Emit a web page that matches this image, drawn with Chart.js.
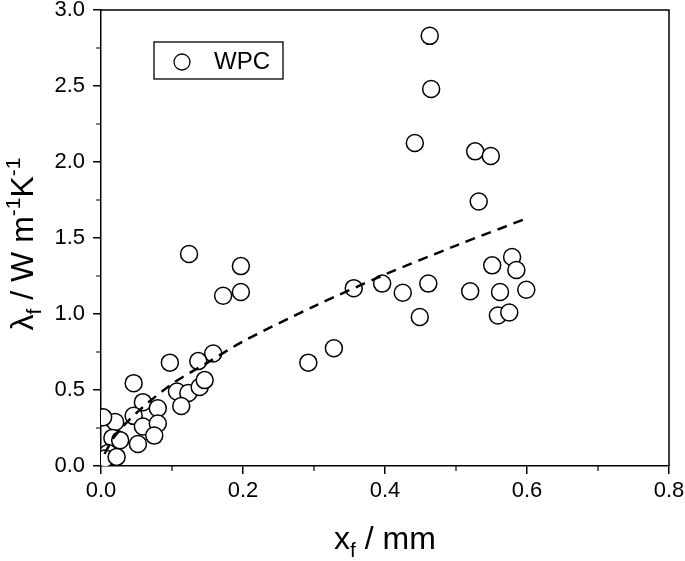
<!DOCTYPE html>
<html lang="en">
<head>
    <meta charset="UTF-8">
    <title>WPC lambda vs x</title>
    <script src="https://cdn.jsdelivr.net/npm/chart.js"></script>
    <style>
        body { margin: 0; background: #fff; }
        .wrap { width: 685px; height: 561px; }
    </style>
</head>
<body>
    <div class="wrap"><canvas id="chart" width="685" height="561"></canvas></div>

    <script>
        // measured points (x_f in mm, lambda_f in W/mK)
        const wpcX = [0.463, 0.465, 0.442, 0.527, 0.549, 0.532, 0.551, 0.579, 0.585, 0.562,
                      0.599, 0.559, 0.575, 0.520, 0.461, 0.425, 0.396, 0.356, 0.449, 0.328,
                      0.292, 0.124, 0.197, 0.172, 0.197, 0.158, 0.137, 0.097, 0.046, 0.107,
                      0.123, 0.139, 0.146, 0.113, 0.059, 0.080, 0.046, 0.020, 0.003, 0.059,
                      0.080, 0.075, 0.052, 0.022, 0.016, 0.027, 0.010, 0.006, 0.022];
        const wpcY = [2.83, 2.48, 2.125, 2.07, 2.04, 1.74, 1.32, 1.375, 1.29, 1.145,
                      1.16, 0.99, 1.01, 1.15, 1.20, 1.14, 1.20, 1.17, 0.98, 0.775,
                      0.68, 1.395, 1.315, 1.12, 1.145, 0.74, 0.69, 0.68, 0.545, 0.49,
                      0.48, 0.52, 0.565, 0.395, 0.42, 0.38, 0.33, 0.29, 0.32, 0.26,
                      0.28, 0.20, 0.145, 0.18, 0.185, 0.17, 0.085, 0.05, 0.06];

        // dashed fit line
        const fitX = [0.005, 0.02, 0.05, 0.1, 0.15, 0.2, 0.3, 0.4, 0.5, 0.6];
        const fitY = [0.08, 0.20, 0.35, 0.54, 0.68, 0.82, 1.05, 1.26, 1.45, 1.63];

        const xTicks = [0, 0.2, 0.4, 0.6, 0.8];
        const yTicks = [0, 0.5, 1.0, 1.5, 2.0, 2.5, 3.0];

        const wpcPoints = wpcX.map((x, i) => ({ x: x, y: wpcY[i] }));
        const fitPoints = fitX.map((x, i) => ({ x: x, y: fitY[i] }));

        const FONT = '"Liberation Sans", Arial, sans-serif';

        // minor ticks, frame, axis titles and legend box
        const decor = {
            id: 'decor',
            afterDraw(chart) {
                const ctx = chart.ctx;
                const a = chart.chartArea;
                const xs = chart.scales.x, ys = chart.scales.y;
                ctx.save();
                ctx.strokeStyle = '#000';
                ctx.lineWidth = 1.5;
                ctx.beginPath();
                ctx.moveTo(a.left, a.top); ctx.lineTo(a.right, a.top); ctx.lineTo(a.right, a.bottom);
                ctx.stroke();

                // minor ticks
                ctx.lineWidth = 1.2;
                ctx.beginPath();
                for (let i = 0; i < xTicks.length - 1; i++) {
                    const px = xs.getPixelForValue((xTicks[i] + xTicks[i + 1]) / 2);
                    ctx.moveTo(px, a.bottom); ctx.lineTo(px, a.bottom + 5);
                }
                for (let i = 0; i < yTicks.length - 1; i++) {
                    const py = ys.getPixelForValue((yTicks[i] + yTicks[i + 1]) / 2);
                    ctx.moveTo(a.left, py); ctx.lineTo(a.left - 5, py);
                }
                ctx.stroke();

                ctx.fillStyle = '#000';
                ctx.textBaseline = 'alphabetic';
                const big = '32px ' + FONT;
                const small = '21px ' + FONT;

                function runs(parts) {
                    let w = 0;
                    parts.forEach(p => { ctx.font = p.f; w += ctx.measureText(p.t).width; });
                    return w;
                }

                // x title: x_f / mm
                const xParts = [
                    { t: 'x', f: big, dy: 0 },
                    { t: 'f', f: small, dy: 8 },
                    { t: ' / mm', f: big, dy: 0 }
                ];
                let w = runs(xParts);
                let cx = (a.left + a.right) / 2 - w / 2;
                xParts.forEach(p => {
                    ctx.font = p.f;
                    ctx.fillText(p.t, cx, 549 + p.dy);
                    cx += ctx.measureText(p.t).width;
                });

                // y title: lambda_f / W m^-1 K^-1
                const yParts = [
                    { t: 'λ', f: big, dy: 0 },
                    { t: 'f', f: small, dy: 8 },
                    { t: ' / W m', f: big, dy: 0 },
                    { t: '-1', f: small, dy: -13 },
                    { t: 'K', f: big, dy: 0 },
                    { t: '-1', f: small, dy: -13 }
                ];
                w = runs(yParts);
                ctx.save();
                ctx.translate(33, 244);
                ctx.rotate(-Math.PI / 2);
                cx = -w / 2;
                yParts.forEach(p => {
                    ctx.font = p.f;
                    ctx.fillText(p.t, cx, p.dy);
                    cx += ctx.measureText(p.t).width;
                });
                ctx.restore();

                // legend box
                ctx.lineWidth = 1.3;
                ctx.strokeRect(a.left + 53, a.top + 32, 129, 37);
                ctx.beginPath();
                ctx.arc(a.left + 81, a.top + 52, 8, 0, Math.PI * 2);
                ctx.stroke();
                ctx.font = '24px ' + FONT;
                ctx.textBaseline = 'middle';
                ctx.fillText('WPC', a.left + 113, a.top + 52);
                ctx.restore();
            }
        };

        new Chart(document.getElementById('chart').getContext('2d'), {
            type: 'scatter',
            data: {
                datasets: [
                    {
                        label: 'fit',
                        type: 'line',
                        data: fitPoints,
                        borderColor: '#000',
                        borderWidth: 2.5,
                        borderDash: [10, 7],
                        pointRadius: 0,
                        fill: false,
                        tension: 0.3,
                        order: 0
                    },
                    {
                        label: 'WPC',
                        data: wpcPoints,
                        pointRadius: 8.5,
                        pointBorderWidth: 1.5,
                        borderColor: '#000',
                        backgroundColor: '#fff',
                        order: 1
                    }
                ]
            },
            options: {
                responsive: false,
                animation: false,
                layout: { padding: { left: 0, top: 10, right: 16, bottom: 0 } },
                plugins: { legend: { display: false }, tooltip: { enabled: false } },
                scales: {
                    x: {
                        type: 'linear',
                        min: 0, max: 0.8,
                        afterFit: s => {
                            s.height = 95;
                            s.paddingLeft = 0; s.paddingRight = 0;
                        },
                        afterBuildTicks: s => { s.ticks = xTicks.map(v => ({ value: v })); },
                        border: { color: '#000', width: 1.5 },
                        grid: { drawOnChartArea: false, tickLength: 8, color: '#000', lineWidth: 1.5 },
                        ticks: {
                            color: '#000', padding: 4,
                            font: { family: FONT, size: 22 },
                            callback: v => v.toFixed(1)
                        }
                    },
                    y: {
                        type: 'linear',
                        min: 0, max: 3,
                        afterFit: s => {
                            s.width = 101;
                            s.paddingTop = 0; s.paddingBottom = 0;
                        },
                        afterBuildTicks: s => { s.ticks = yTicks.map(v => ({ value: v })); },
                        border: { color: '#000', width: 1.5 },
                        grid: { drawOnChartArea: false, tickLength: 8, color: '#000', lineWidth: 1.5 },
                        ticks: {
                            color: '#000', padding: 8,
                            font: { family: FONT, size: 22 },
                            callback: v => v.toFixed(1)
                        }
                    }
                }
            },
            plugins: [decor]
        });
    </script>
</body>
</html>
